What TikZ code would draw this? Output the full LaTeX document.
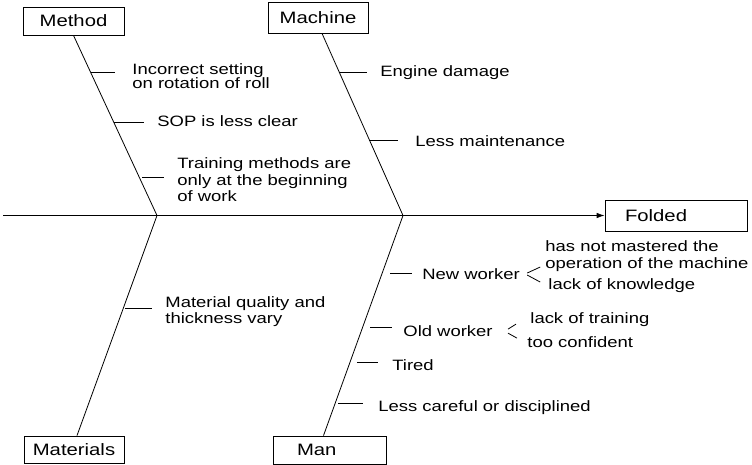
\documentclass[tikz,border=0pt]{standalone}
\usepackage{fontspec}
\setmainfont[FakeStretch=1.23]{Liberation Sans}
\usetikzlibrary{arrows.meta,calc}

\begin{document}
\begin{tikzpicture}[x=1pt, y=-1pt, line width=0.8pt,
	cbox/.style={draw, inner sep=0pt, font=\fontsize{16.5}{18}\selectfont},
	lbl/.style={anchor=base west, inner sep=0pt, align=left, font=\fontsize{15}{16}\selectfont},
	rib/.style={shorten >=13pt}]
		\useasboundingbox (0,0) rectangle (752,465);

		\node[cbox, minimum width=101, minimum height=28] (method) at (73.5,21) {Method};
		\node[cbox, minimum width=100, minimum height=31] (machine) at (318,17.5) {Machine};
		\node[cbox, minimum width=100, minimum height=27] (materials) at (74,449.5) {Materials};
		\node[cbox, minimum height=28, text width=65, inner xsep=24, align=left] (man) at (329.5,450) {Man};
		\node[cbox, minimum height=31, text width=102, inner xsep=20, align=left] (folded) at (676,215.5) {Folded};

		\coordinate (tail) at (3,215.5);
		\coordinate (j1) at (157,215.5);
		\coordinate (j2) at (403,215.5);

		\draw[-{Latex[length=8pt,width=5.5pt]}] (tail) -- (folded);
		\draw (method.south) -- (j1) coordinate[pos=0.205] (m1) coordinate[pos=0.482] (m2) coordinate[pos=0.787] (m3);
		\draw ([xshift=4pt]machine.south) -- (j2) coordinate[pos=0.214] (k1) coordinate[pos=0.586] (k2);
		\draw (j1) -- ([xshift=3pt]materials.north) coordinate[pos=0.424] (s1);
		\draw (j2) -- ([xshift=-6pt]man.north) coordinate[pos=0.261] (p1) coordinate[pos=0.510] (p2) coordinate[pos=0.669] (p3) coordinate[pos=0.855] (p4);

		\node[lbl, font=\fontsize{15}{14}\selectfont] (t1) at (132,89) {Incorrect setting\\on rotation of roll};
		\node[lbl] (t2) at (157,127) {SOP is less clear};
		\node[lbl, font=\fontsize{15}{16.5}\selectfont] (t3) at (177,202) {Training methods are\\only at the beginning\\of work};
		\node[lbl] (t4) at (380,77) {Engine damage};
		\node[lbl] (t5) at (415,147) {Less maintenance};
		\node[lbl] (t6) at (165,323) {Material quality and\\thickness vary};
		\node[lbl] (nw) at (422,279) {New worker};
		\node[lbl, font=\fontsize{15}{17}\selectfont] (nw1) at (545,268) {has not mastered the\\operation of the machine};
		\node[lbl] (nw2) at (548,289) {lack of knowledge};
		\node[lbl] (ow) at (403,336) {Old worker};
		\node[lbl] (ow1) at (530,323) {lack of training};
		\node[lbl] (ow2) at (527,347) {too confident};
		\node[lbl] (t7) at (392,370) {Tired};
		\node[lbl] (t8) at (378,411) {Less careful or disciplined};

		\draw[rib, shorten >=17pt] (m1) -- (m1 -| t1.west);
		\draw[rib] (m2) -- (m2 -| t2.west);
		\draw[rib, shorten <=3pt] (m3) -- (m3 -| t3.west);
		\draw[rib] (k1) -- (k1 -| t4.west);
		\draw[rib, shorten >=17pt] (k2) -- (k2 -| t5.west);
		\draw[rib, shorten <=2pt] (s1) -- (s1 -| t6.west);
		\draw[rib, shorten <=8pt, shorten >=10pt] (p1) -- (p1 -| nw.west);
		\draw[rib, shorten <=8pt, shorten >=11pt] (p2) -- (p2 -| ow.west);
		\draw[rib, shorten <=7pt, shorten >=14pt] (p3) -- (p3 -| t7.west);
		\draw[rib, shorten <=3pt, shorten >=15pt] (p4) -- (p4 -| t8.west);

		\draw ($(nw.east)+(7,-0.6)$) -- +(13,-6);
		\draw ($(nw.east)+(7,1.4)$) -- +(13,7);
		\draw ($(ow.east)+(15,-1.5)$) -- +(8,-5);
		\draw ($(ow.east)+(15,2.5)$) -- +(9,5);
	\end{tikzpicture}
\end{document}
